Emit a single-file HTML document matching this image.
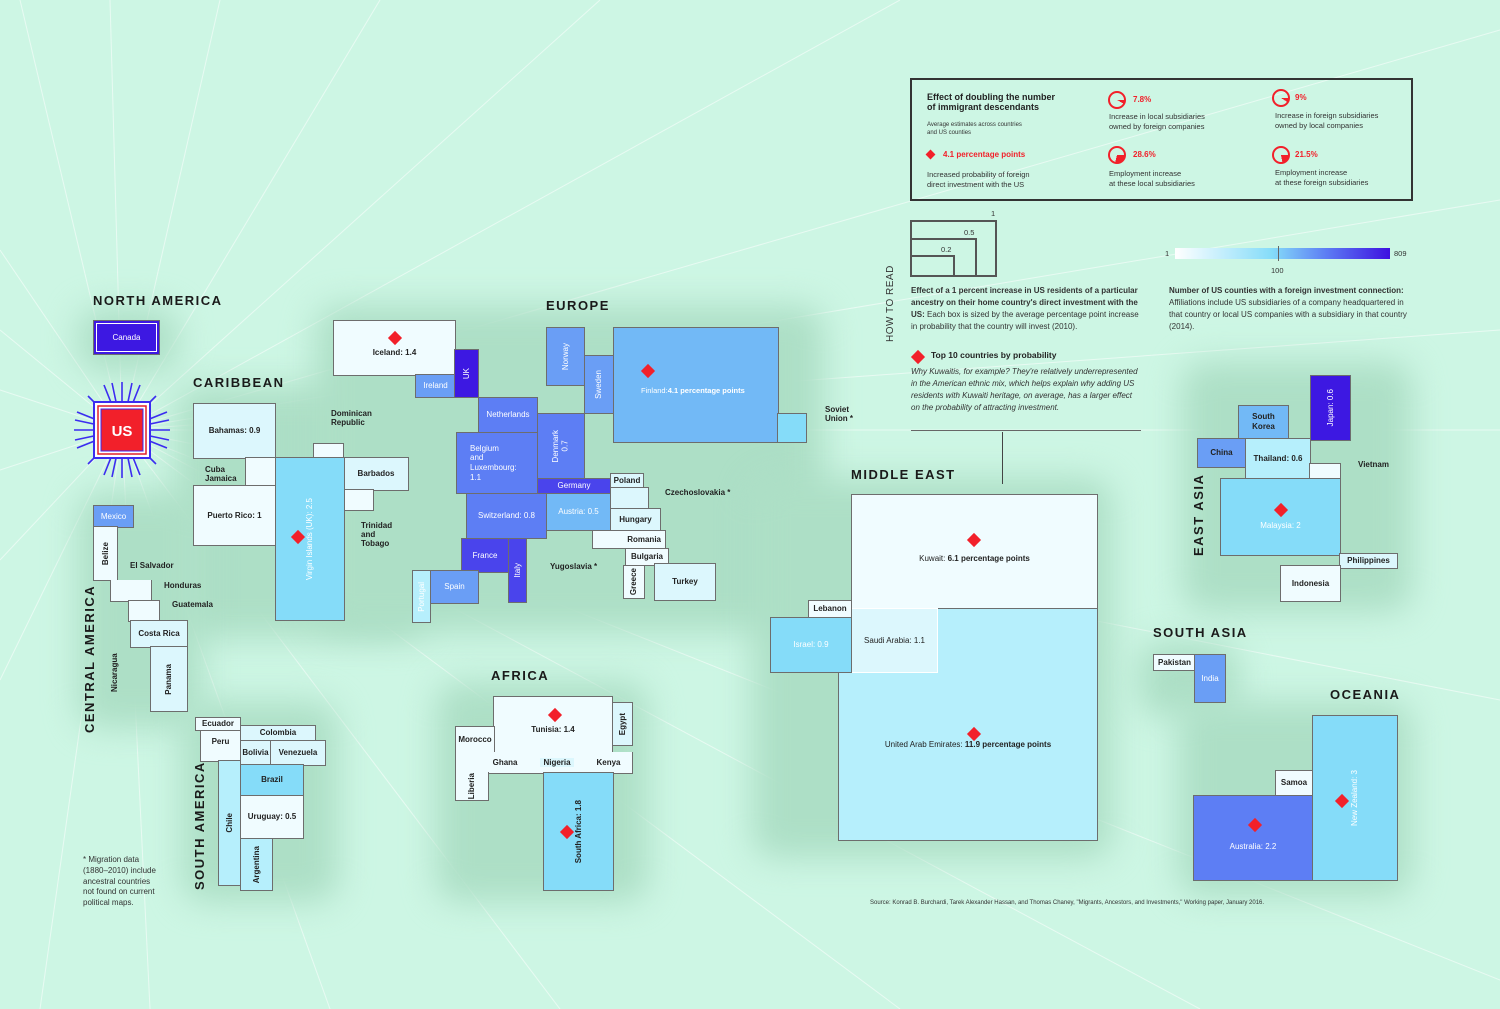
<!DOCTYPE html>
<html><head><meta charset="utf-8">
<style>
*{margin:0;padding:0;box-sizing:border-box}
body{width:1500px;height:1009px;background:#cdf6e4;position:relative;overflow:hidden;font-family:"Liberation Sans",sans-serif;color:#222}
.g{position:absolute;background:#addfc6;filter:blur(16px);border-radius:24px}
.b{position:absolute;border:1.5px solid #6d6d6d;display:flex;align-items:center;justify-content:center;text-align:center;font-size:8px;font-weight:bold;line-height:1.2;color:#222}
.w{color:#fff;font-weight:normal}
.v{writing-mode:vertical-rl;transform:rotate(180deg)}
.t{position:absolute;font-weight:bold;font-size:13px;letter-spacing:1.5px;color:#1a1a1a}
.tv{position:absolute;font-weight:bold;font-size:13px;letter-spacing:1.5px;color:#1a1a1a;transform:rotate(-90deg);transform-origin:left top;white-space:nowrap}
.l{position:absolute;font-size:8px;font-weight:bold;line-height:1.15;color:#222;white-space:nowrap}
.d{position:absolute;width:10px;height:10px;background:#f2202a;transform:rotate(45deg)}
.c0{background:#f0fcff}.c1{background:#dcf7fd}.c2{background:#b6effc}.c3{background:#85dcf9}.c4{background:#72b9f6}.c5{background:#6a9ef5}.c6{background:#5d7ef4}.c7{background:#4a44ec}.c8{background:#3d18e2}
.s{position:absolute;font-size:7.5px;color:#333;line-height:1.35}
</style></head><body>
<svg width="1500" height="1009" style="position:absolute;left:0;top:0" >
<g stroke="#ffffff" stroke-width="1" opacity="0.55">
<line x1="122" y1="430" x2="0" y2="250"/><line x1="122" y1="430" x2="0" y2="330"/><line x1="122" y1="430" x2="0" y2="390"/>
<line x1="122" y1="430" x2="0" y2="470"/><line x1="122" y1="430" x2="0" y2="560"/><line x1="122" y1="430" x2="0" y2="680"/>
<line x1="122" y1="430" x2="40" y2="1009"/><line x1="122" y1="430" x2="150" y2="1009"/><line x1="122" y1="430" x2="330" y2="1009"/>
<line x1="122" y1="430" x2="560" y2="1009"/><line x1="122" y1="430" x2="900" y2="1009"/><line x1="122" y1="430" x2="1500" y2="980"/>
<line x1="122" y1="430" x2="1500" y2="700"/><line x1="122" y1="430" x2="1500" y2="430"/><line x1="122" y1="430" x2="1500" y2="330"/>
<line x1="122" y1="430" x2="1500" y2="200"/><line x1="122" y1="430" x2="1500" y2="30"/><line x1="122" y1="430" x2="900" y2="0"/>
<line x1="122" y1="430" x2="600" y2="0"/><line x1="122" y1="430" x2="380" y2="0"/><line x1="122" y1="430" x2="220" y2="0"/>
<line x1="122" y1="430" x2="110" y2="0"/><line x1="122" y1="430" x2="20" y2="0"/><line x1="122" y1="430" x2="1200" y2="1009"/>
</g></svg>
<!-- glows -->
<div class="g" style="left:78px;top:308px;width:100px;height:64px"></div>
<div class="g" style="left:176px;top:386px;width:248px;height:252px"></div>
<div class="g" style="left:78px;top:492px;width:124px;height:236px"></div>
<div class="g" style="left:182px;top:702px;width:156px;height:200px"></div>
<div class="g" style="left:316px;top:306px;width:508px;height:326px"></div>
<div class="g" style="left:436px;top:682px;width:212px;height:220px"></div>
<div class="g" style="left:752px;top:478px;width:360px;height:380px"></div>
<div class="g" style="left:1182px;top:362px;width:230px;height:250px"></div>
<div class="g" style="left:1138px;top:642px;width:100px;height:74px"></div>
<div class="g" style="left:1178px;top:702px;width:234px;height:194px"></div>

<!-- North America -->
<div class="t" style="left:93px;top:293px">NORTH AMERICA</div>
<div class="b c8 w" style="left:93px;top:320px;width:67px;height:35px;outline:1px solid #fff;outline-offset:-4px">Canada</div>
<svg width="100" height="100" style="position:absolute;left:72px;top:380px">
<g stroke="#3b2cf0" stroke-width="1.6">
<line x1="50" y1="2" x2="50" y2="98"/><line x1="2" y1="50" x2="98" y2="50"/>
<line x1="16" y1="16" x2="84" y2="84"/><line x1="84" y1="16" x2="16" y2="84"/>
<line x1="32" y1="5" x2="68" y2="95"/><line x1="68" y1="5" x2="32" y2="95"/>
<line x1="5" y1="32" x2="95" y2="68"/><line x1="5" y1="68" x2="95" y2="32"/>
<line x1="40" y1="3" x2="60" y2="97"/><line x1="60" y1="3" x2="40" y2="97"/>
<line x1="3" y1="40" x2="97" y2="60"/><line x1="3" y1="60" x2="97" y2="40"/>
</g>
<rect x="22" y="22" width="56" height="56" fill="#fff" stroke="#3b2cf0" stroke-width="2"/>
<rect x="26" y="26" width="48" height="48" fill="#fff" stroke="#e0202a" stroke-width="1.5"/>
<rect x="29" y="29" width="42" height="42" fill="#f2202a" stroke="#3b2cf0" stroke-width="1"/>
<text x="50" y="56" text-anchor="middle" font-family="Liberation Sans" font-weight="bold" font-size="15" fill="#fff">US</text>
</svg>

<!-- Caribbean -->
<div class="t" style="left:193px;top:375px">CARIBBEAN</div>
<div class="b c1" style="left:193px;top:403px;width:83px;height:56px">Bahamas: 0.9</div>
<div class="b c0" style="left:245px;top:457px;width:31px;height:30px"></div>
<div class="b c0" style="left:193px;top:485px;width:83px;height:61px">Puerto Rico: 1</div>
<div class="b c0" style="left:313px;top:443px;width:31px;height:16px"></div>
<div class="b c1" style="left:343px;top:457px;width:66px;height:34px">Barbados</div>
<div class="b c0" style="left:343px;top:489px;width:31px;height:22px"></div>
<div class="b c3 w" style="left:275px;top:457px;width:70px;height:164px"><span class="v">Virgin Islands (UK): 2.5</span></div>
<div class="d" style="left:293px;top:532px"></div>
<div class="l" style="left:205px;top:465px">Cuba<br>Jamaica</div>
<div class="l" style="left:331px;top:409px">Dominican<br>Republic</div>
<div class="l" style="left:361px;top:521px">Trinidad<br>and<br>Tobago</div>

<!-- Central America -->
<div class="tv" style="left:82px;top:733px">CENTRAL AMERICA</div>
<div class="b c5 w" style="left:93px;top:505px;width:41px;height:23px">Mexico</div>
<div class="b c0" style="left:93px;top:526px;width:25px;height:55px"><span class="v">Belize</span></div>
<div class="b c0" style="left:110px;top:580px;width:42px;height:22px;border-top:none"></div>
<div class="b c0" style="left:128px;top:600px;width:32px;height:22px"></div>
<div class="b c1" style="left:130px;top:620px;width:58px;height:28px">Costa Rica</div>
<div class="b c1" style="left:150px;top:646px;width:38px;height:66px"><span class="v">Panama</span></div>
<div class="l" style="left:130px;top:561px">El Salvador</div>
<div class="l" style="left:164px;top:581px">Honduras</div>
<div class="l" style="left:172px;top:600px">Guatemala</div>
<div class="l" style="left:110px;top:692px;transform:rotate(-90deg);transform-origin:left top">Nicaragua</div>

<!-- South America -->
<div class="tv" style="left:192px;top:890px">SOUTH AMERICA</div>
<div class="b c0" style="left:195px;top:717px;width:46px;height:14px">Ecuador</div>
<div class="b c0" style="left:200px;top:730px;width:41px;height:32px;align-items:flex-start;padding-top:6px">Peru</div>
<div class="b c1" style="left:240px;top:725px;width:76px;height:16px">Colombia</div>
<div class="b c1" style="left:240px;top:740px;width:31px;height:26px">Bolivia</div>
<div class="b c1" style="left:270px;top:740px;width:56px;height:26px">Venezuela</div>
<div class="b c2" style="left:218px;top:760px;width:23px;height:126px"><span class="v">Chile</span></div>
<div class="b c3" style="left:240px;top:764px;width:64px;height:32px">Brazil</div>
<div class="b c0" style="left:240px;top:795px;width:64px;height:44px">Uruguay: 0.5</div>
<div class="b c2" style="left:240px;top:838px;width:33px;height:53px"><span class="v">Argentina</span></div>
<div class="s" style="left:83px;top:855px;font-size:8px">* Migration data<br>(1880–2010) include<br>ancestral countries<br>not found on current<br>political maps.</div>

<!-- Europe -->
<div class="t" style="left:546px;top:298px">EUROPE</div>
<div class="b c0" style="left:333px;top:320px;width:123px;height:56px;padding-top:10px">Iceland: 1.4</div>
<div class="d" style="left:390px;top:333px"></div>
<div class="b c5 w" style="left:415px;top:374px;width:41px;height:24px">Ireland</div>
<div class="b c8 w" style="left:454px;top:349px;width:25px;height:49px"><span class="v">UK</span></div>
<div class="b c6 w" style="left:478px;top:397px;width:60px;height:36px">Netherlands</div>
<div class="b c6 w" style="left:456px;top:432px;width:82px;height:62px;justify-content:flex-start;text-align:left;padding-left:13px">Belgium<br>and<br>Luxembourg:<br>1.1</div>
<div class="b c6 w" style="left:537px;top:413px;width:48px;height:66px"><span class="v">Denmark<br>0.7</span></div>
<div class="b c7 w" style="left:537px;top:478px;width:74px;height:16px">Germany</div>
<div class="b c6 w" style="left:466px;top:493px;width:81px;height:46px">Switzerland: 0.8</div>
<div class="b c4 w" style="left:546px;top:493px;width:65px;height:38px">Austria: 0.5</div>
<div class="b c7 w" style="left:461px;top:538px;width:48px;height:35px">France</div>
<div class="b c7 w" style="left:508px;top:538px;width:19px;height:65px"><span class="v">Italy</span></div>
<div class="b c5 w" style="left:430px;top:570px;width:49px;height:34px">Spain</div>
<div class="b c2 w" style="left:412px;top:570px;width:19px;height:53px"><span class="v">Portugal</span></div>
<div class="b c5 w" style="left:546px;top:327px;width:39px;height:59px"><span class="v">Norway</span></div>
<div class="b c5 w" style="left:584px;top:355px;width:30px;height:59px"><span class="v">Sweden</span></div>
<div class="b c4 w" style="left:613px;top:327px;width:166px;height:116px;justify-content:flex-start;text-align:left;padding-left:27px;padding-top:10px;font-size:7.5px">Finland:<br><b>4.1 percentage points</b></div>
<div class="d" style="left:643px;top:366px"></div>
<div class="b c3" style="left:777px;top:413px;width:30px;height:30px"></div>
<div class="l" style="left:825px;top:405px">Soviet<br>Union *</div>
<div class="b c1" style="left:610px;top:473px;width:34px;height:15px">Poland</div>
<div class="b c1" style="left:610px;top:487px;width:39px;height:22px"></div>
<div class="b c1" style="left:610px;top:508px;width:51px;height:23px">Hungary</div>
<div class="b c0" style="left:592px;top:530px;width:74px;height:19px;justify-content:flex-end;padding-right:4px">Romania</div>
<div class="b c0" style="left:625px;top:548px;width:44px;height:18px">Bulgaria</div>
<div class="b c0" style="left:623px;top:565px;width:22px;height:34px"><span class="v">Greece</span></div>
<div class="b c1" style="left:654px;top:563px;width:62px;height:38px">Turkey</div>
<div class="l" style="left:665px;top:488px">Czechoslovakia *</div>
<div class="l" style="left:550px;top:562px">Yugoslavia *</div>

<!-- Africa -->
<div class="t" style="left:491px;top:668px">AFRICA</div>
<div class="b c0" style="left:493px;top:696px;width:120px;height:58px;padding-top:10px">Tunisia: 1.4</div>
<div class="d" style="left:550px;top:710px"></div>
<div class="b c1" style="left:612px;top:702px;width:21px;height:44px"><span class="v">Egypt</span></div>
<div class="b c0" style="left:455px;top:726px;width:40px;height:28px">Morocco</div>
<div class="b c0" style="left:455px;top:752px;width:178px;height:22px;justify-content:space-around;border-top:none">&nbsp;<span>Ghana</span><span style="background:#dcf7fd;padding:0 3px">Nigeria</span><span>Kenya</span></div>
<div class="b c0" style="left:455px;top:772px;width:34px;height:29px;border-top:none"><span class="v">Liberia</span></div>
<div class="b c3" style="left:543px;top:772px;width:71px;height:119px"><span class="v">South Africa: 1.8</span></div>
<div class="d" style="left:562px;top:827px"></div>

<!-- Middle East -->
<div class="t" style="left:851px;top:467px">MIDDLE EAST</div>
<div class="b c0" style="left:851px;top:494px;width:247px;height:116px;padding-top:14px;font-weight:normal">Kuwait:&nbsp;<b>6.1 percentage points</b></div>
<div class="d" style="left:969px;top:535px"></div>
<div class="b c2" style="left:838px;top:608px;width:260px;height:233px;padding-top:40px;font-weight:normal">United Arab Emirates:&nbsp;<b>11.9 percentage points</b></div>
<div class="d" style="left:969px;top:729px"></div>
<div class="b c1" style="left:851px;top:608px;width:87px;height:65px;border-color:#fff;font-weight:normal">Saudi Arabia: 1.1</div>
<div class="b c0" style="left:808px;top:600px;width:44px;height:18px">Lebanon</div>
<div class="b c3 w" style="left:770px;top:617px;width:82px;height:56px">Israel: 0.9</div>

<!-- East Asia -->
<div class="tv" style="left:1191px;top:556px">EAST ASIA</div>
<div class="b c8 w" style="left:1310px;top:375px;width:41px;height:66px"><span class="v">Japan: 0.6</span></div>
<div class="b c4" style="left:1238px;top:405px;width:51px;height:34px">South<br>Korea</div>
<div class="b c5" style="left:1197px;top:438px;width:49px;height:30px">China</div>
<div class="b c2" style="left:1245px;top:438px;width:66px;height:41px">Thailand: 0.6</div>
<div class="b c0" style="left:1309px;top:463px;width:32px;height:16px"></div>
<div class="l" style="left:1358px;top:460px">Vietnam</div>
<div class="b c3 w" style="left:1220px;top:478px;width:121px;height:78px;padding-top:18px">Malaysia: 2</div>
<div class="d" style="left:1276px;top:505px"></div>
<div class="b c1" style="left:1339px;top:553px;width:59px;height:16px">Philippines</div>
<div class="b c0" style="left:1280px;top:565px;width:61px;height:37px">Indonesia</div>

<!-- South Asia -->
<div class="t" style="left:1153px;top:625px">SOUTH ASIA</div>
<div class="b c0" style="left:1153px;top:654px;width:43px;height:17px">Pakistan</div>
<div class="b c5 w" style="left:1194px;top:654px;width:32px;height:49px">India</div>

<!-- Oceania -->
<div class="t" style="left:1330px;top:687px">OCEANIA</div>
<div class="b c3 w" style="left:1312px;top:715px;width:86px;height:166px"><span class="v">New Zealand: 3</span></div>
<div class="d" style="left:1337px;top:796px"></div>
<div class="b c0" style="left:1275px;top:770px;width:38px;height:26px">Samoa</div>
<div class="b c6 w" style="left:1193px;top:795px;width:120px;height:86px;padding-top:18px">Australia: 2.2</div>
<div class="d" style="left:1250px;top:820px"></div>

<!-- Legend -->
<div style="position:absolute;left:910px;top:78px;width:503px;height:123px;border:2px solid #333"></div>
<div class="l" style="left:927px;top:92px;font-size:9px">Effect of doubling the number<br>of immigrant descendants</div>
<div class="s" style="left:927px;top:121px;font-size:6px">Average estimates across countries<br>and US counties</div>
<div class="l" style="left:943px;top:150px;color:#f2202a">4.1 percentage points</div>
<div class="d" style="left:927px;top:151px;width:7px;height:7px"></div>
<div class="s" style="left:927px;top:170px">Increased probability of foreign<br>direct investment with the US</div>
<div style="position:absolute;left:1108px;top:91px;width:18px;height:18px;border:2px solid #f2202a;border-radius:50%;background:conic-gradient(#fff0 0 25%,#f2202a 25% 33%,#fff0 33%)"></div>
<div class="l" style="left:1133px;top:95px;color:#f2202a">7.8%</div>
<div class="s" style="left:1109px;top:112px">Increase in local subsidiaries<br>owned by foreign companies</div>
<div style="position:absolute;left:1272px;top:89px;width:18px;height:18px;border:2px solid #f2202a;border-radius:50%;background:conic-gradient(#fff0 0 25%,#f2202a 25% 34%,#fff0 34%)"></div>
<div class="l" style="left:1295px;top:93px;color:#f2202a">9%</div>
<div class="s" style="left:1275px;top:111px">Increase in foreign subsidiaries<br>owned by local companies</div>
<div style="position:absolute;left:1108px;top:146px;width:18px;height:18px;border:2px solid #f2202a;border-radius:50%;background:conic-gradient(#fff0 0 25%,#f2202a 25% 54%,#fff0 54%)"></div>
<div class="l" style="left:1133px;top:150px;color:#f2202a">28.6%</div>
<div class="s" style="left:1109px;top:169px">Employment increase<br>at these local subsidiaries</div>
<div style="position:absolute;left:1272px;top:146px;width:18px;height:18px;border:2px solid #f2202a;border-radius:50%;background:conic-gradient(#fff0 0 25%,#f2202a 25% 47%,#fff0 47%)"></div>
<div class="l" style="left:1295px;top:150px;color:#f2202a">21.5%</div>
<div class="s" style="left:1275px;top:168px">Employment increase<br>at these foreign subsidiaries</div>

<!-- How to read -->
<div class="s" style="left:884px;top:342px;transform:rotate(-90deg);transform-origin:left top;font-size:10px;letter-spacing:0.5px">HOW TO READ</div>
<div style="position:absolute;left:910px;top:220px;width:87px;height:57px;border:2px solid #555"></div>
<div style="position:absolute;left:910px;top:238px;width:67px;height:39px;border:2px solid #555"></div>
<div style="position:absolute;left:910px;top:255px;width:45px;height:22px;border:2px solid #555"></div>
<div class="s" style="left:991px;top:209px">1</div>
<div class="s" style="left:964px;top:228px">0.5</div>
<div class="s" style="left:941px;top:245px">0.2</div>
<div class="s" style="left:911px;top:285px;width:230px;font-size:8px;line-height:1.5"><b>Effect of a 1 percent increase in US residents of a particular ancestry on their home country's direct investment with the US:</b> Each box is sized by the average percentage point increase in probability that the country will invest (2010).</div>
<div class="d" style="left:913px;top:352px"></div>
<div class="l" style="left:931px;top:351px;font-size:8.5px">Top 10 countries by probability</div>
<div class="s" style="left:911px;top:366px;width:230px;font-size:8px;font-style:italic;line-height:1.5">Why Kuwaitis, for example? They're relatively underrepresented in the American ethnic mix, which helps explain why adding US residents with Kuwaiti heritage, on average, has a larger effect on the probability of attracting investment.</div>
<div style="position:absolute;left:911px;top:430px;width:230px;height:1px;background:#666"></div>
<div style="position:absolute;left:1002px;top:432px;width:1px;height:52px;background:#444"></div>
<div class="s" style="left:1165px;top:249px">1</div>
<div style="position:absolute;left:1175px;top:248px;width:215px;height:11px;background:linear-gradient(90deg,#fff,#85dcf9 45%,#5d7ef4 70%,#3d10e0)"></div>
<div style="position:absolute;left:1278px;top:246px;width:1px;height:15px;background:#666"></div>
<div class="s" style="left:1271px;top:266px">100</div>
<div class="s" style="left:1394px;top:249px">809</div>
<div class="s" style="left:1169px;top:285px;width:245px;font-size:8px;line-height:1.5"><b>Number of US counties with a foreign investment connection:</b> Affiliations include US subsidiaries of a company headquartered in that country or local US companies with a subsidiary in that country (2014).</div>

<div class="s" style="left:870px;top:899px;font-size:6px">Source: Konrad B. Burchardi, Tarek Alexander Hassan, and Thomas Chaney, "Migrants, Ancestors, and Investments," Working paper, January 2016.</div>
</body></html>
